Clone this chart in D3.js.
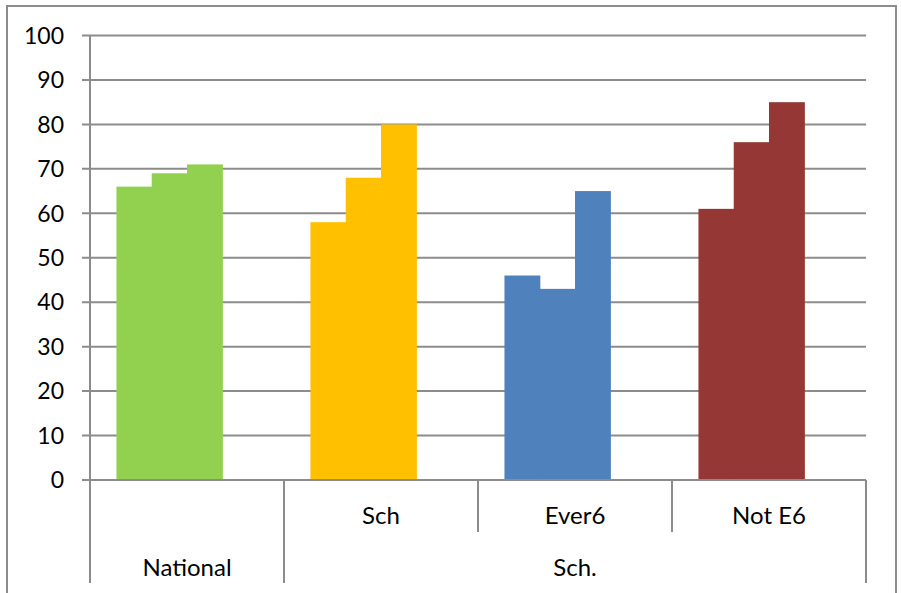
<!DOCTYPE html>
<html>
<head>
<meta charset="utf-8">
<script src="https://cdn.jsdelivr.net/npm/d3@7"></script>
<style>
  html, body { margin: 0; padding: 0; background: #fff; }
  svg text { font-family: Lato, "Open Sans", sans-serif; fill: #000; }
</style>
</head>
<body>
<svg id="chart"></svg>
<script>
// DATOS
const categories = ["National", "Sch", "Ever6", "Not E6"];
const subLabels = ["", "Sch", "Ever6", "Not E6"];
const groups = [
  { name: "National", from: 0, to: 0 },
  { name: "Sch.", from: 1, to: 3 }
];
const series1 = [66, 58, 46, 61];
const series2 = [69, 68, 43, 76];
const series3 = [71, 80, 65, 85];
const yTicks = [0, 10, 20, 30, 40, 50, 60, 70, 80, 90, 100];
const colors = ["#92D050", "#FFC000", "#4F81BD", "#953735"];

const width = 901;
const height = 593;
const gridColor = "#8c8c8c";

const svg = d3.select("#chart")
  .attr("width", width)
  .attr("height", height);

// marco exterior
svg.append("rect")
  .attr("x", 7).attr("y", 6)
  .attr("width", 889).attr("height", 600)
  .attr("fill", "none")
  .attr("stroke", gridColor)
  .attr("stroke-width", 2);

// ESCALAS
const x = d3.scaleBand()
  .domain(categories)
  .range([90, 866]);

// barras desplazadas a la izquierda dentro de cada categoria
const xInner = d3.scaleBand()
  .domain([0, 1, 2])
  .range([0, x.bandwidth()])
  .paddingInner(0)
  .paddingOuter(1.25)
  .align(0.3);

const y = d3.scaleLinear()
  .domain([0, 100])
  .range([480, 35.5]);

// rejilla
svg.append("g")
  .selectAll("line")
  .data(yTicks)
  .enter()
  .append("line")
  .attr("x1", 82).attr("x2", 866)
  .attr("y1", d => y(d)).attr("y2", d => y(d))
  .attr("stroke", gridColor)
  .attr("stroke-width", 2);

// etiquetas eje Y
svg.append("g")
  .selectAll("text")
  .data(yTicks)
  .enter()
  .append("text")
  .attr("x", 64)
  .attr("y", d => y(d))
  .attr("dy", "0.36em")
  .attr("text-anchor", "end")
  .style("font-size", "23px")
  .text(d => d);

// BARRAS
const dataset = [];
categories.forEach((c, i) => {
  [series1, series2, series3].forEach((s, j) => {
    dataset.push({ cat: c, idx: i, serie: j, value: s[i] });
  });
});

svg.append("g")
  .selectAll("rect")
  .data(dataset)
  .enter()
  .append("rect")
  .attr("x", d => x(d.cat) + xInner(d.serie))
  .attr("width", xInner.bandwidth() + 0.6)
  .attr("y", d => y(d.value))
  .attr("height", d => y(0) - y(d.value))
  .attr("fill", d => colors[d.idx]);

// eje X (linea base)
svg.append("line")
  .attr("x1", 82).attr("x2", 866)
  .attr("y1", y(0)).attr("y2", y(0))
  .attr("stroke", gridColor)
  .attr("stroke-width", 2);

// eje Y
svg.append("line")
  .attr("x1", 90).attr("x2", 90)
  .attr("y1", y(100)).attr("y2", 583)
  .attr("stroke", gridColor)
  .attr("stroke-width", 2);

// ticks de nivel 1 (subcategorias)
svg.append("g")
  .selectAll("line")
  .data([x(categories[2]), x(categories[3]), x(categories[3]) + x.bandwidth()])
  .enter()
  .append("line")
  .attr("x1", d => d).attr("x2", d => d)
  .attr("y1", y(0)).attr("y2", 532)
  .attr("stroke", gridColor)
  .attr("stroke-width", 2);

// ticks de nivel 2 (grupos)
svg.append("g")
  .selectAll("line")
  .data([x(categories[1]), x(categories[3]) + x.bandwidth()])
  .enter()
  .append("line")
  .attr("x1", d => d).attr("x2", d => d)
  .attr("y1", y(0)).attr("y2", 583)
  .attr("stroke", gridColor)
  .attr("stroke-width", 2);

// etiquetas subcategorias
svg.append("g")
  .selectAll("text")
  .data(categories)
  .enter()
  .append("text")
  .attr("x", d => x(d) + x.bandwidth() / 2)
  .attr("y", 515)
  .attr("dy", "0.36em")
  .attr("text-anchor", "middle")
  .style("font-size", "24px")
  .text((d, i) => subLabels[i]);

// etiquetas grupos
svg.append("g")
  .selectAll("text")
  .data(groups)
  .enter()
  .append("text")
  .attr("x", d => (x(categories[d.from]) + x(categories[d.to]) + x.bandwidth()) / 2)
  .attr("y", 567)
  .attr("dy", "0.36em")
  .attr("text-anchor", "middle")
  .style("font-size", "24px")
  .text(d => d.name);
</script>
</body>
</html>
